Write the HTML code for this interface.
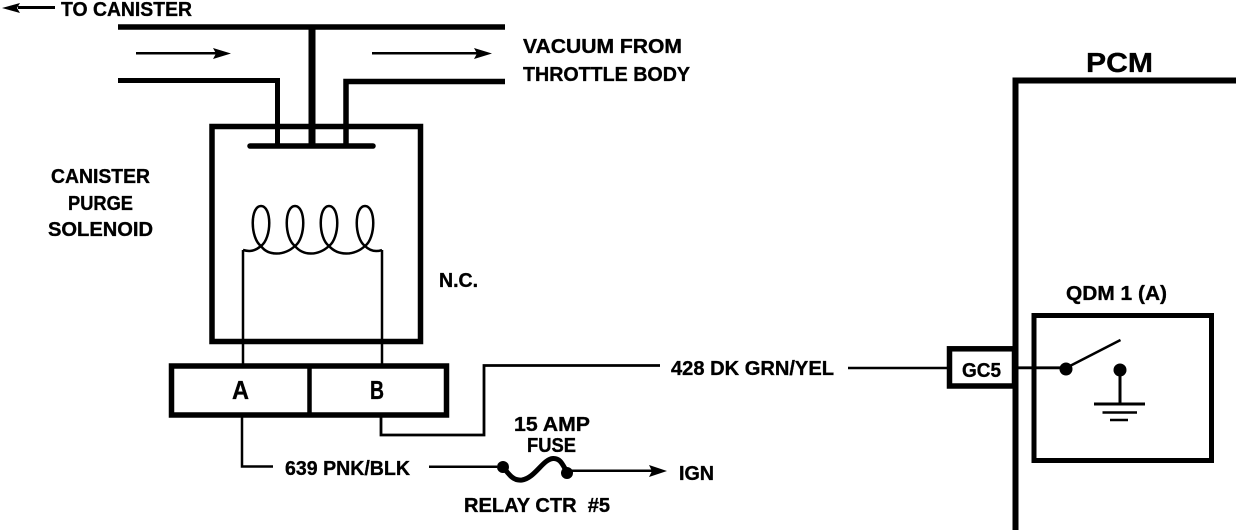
<!DOCTYPE html>
<html><head><meta charset="utf-8"><style>
html,body{margin:0;padding:0;background:#fff;width:1248px;height:530px;overflow:hidden}
svg{display:block}
text{font-family:"Liberation Sans",sans-serif;font-weight:bold;font-size:20px;fill:#000;stroke:#000;stroke-width:.35px;white-space:pre}
</style></head><body>
<svg width="1248" height="530" viewBox="0 0 1248 530" xmlns="http://www.w3.org/2000/svg">
<g fill="none" stroke="#000" stroke-linecap="butt">
<!-- top pipes -->
<path d="M118 27H505" stroke-width="5.500"/>
<path d="M118 80.500H277.500V145" stroke-width="5"/>
<path d="M346 145V81.500H505" stroke-width="5.500"/>
<path d="M312 28V145" stroke-width="7"/>
<!-- solenoid box -->
<rect x="212" y="126.500" width="208.500" height="215" stroke-width="5.500"/>
<path d="M250 146H373" stroke-width="5.500" stroke-linecap="round"/>
<!-- flow arrows -->
<path d="M136 53.300H222M372 53.300H484" stroke-width="2.500"/>
<path d="M18 7.500H55" stroke-width="3"/>
<!-- coil -->
<path d="M243 250C250 252 255 251 261 246C250 238 250 206 261 206C272 206 272 238 261 246C268 256 284 256 295 246C284 238 284 206 295 206C306 206 306 238 295 246C303 256 318 256 329 246C318 238 318 206 329 206C340 206 340 238 329 246C338 256 354 256 365 246C354 238 354 206 365 206C376 206 376 238 365 246C370 251 376 252 382 250" stroke-width="2.500"/>
<path d="M243 250V365" stroke-width="2.500"/>
<path d="M382 250V365" stroke-width="2.500"/>
<!-- connector -->
<rect x="171.500" y="366" width="275" height="49" stroke-width="5.500"/>
<path d="M309.500 366V415" stroke-width="4.500"/>
<!-- wires -->
<path d="M242 416V466.500H273" stroke-width="2.500"/>
<path d="M429 466.700H497" stroke-width="2.500"/>
<path d="M381 416V435H484V365.500H660" stroke-width="2.800"/>
<path d="M848 368H950" stroke-width="2.500"/>
<!-- fuse -->
<path d="M503 467C510 476 514 481 522 480C535 478 543 459 553 458.500C561 458 563 466 567 472" stroke-width="5"/>
<path d="M568 470.700H660" stroke-width="2.500"/>
<!-- PCM -->
<path d="M1236 80.500H1015.500V530" stroke-width="6"/>
<rect x="949.500" y="348.800" width="65" height="37.200" stroke-width="5.500"/>
<rect x="1034" y="315.500" width="177.500" height="145" stroke-width="5"/>
<path d="M1016 367.800H1066" stroke-width="2.800"/>
<path d="M1066 368L1120.500 340" stroke-width="2.500"/>
<path d="M1120 369V404" stroke-width="3"/>
<path d="M1094 404H1145" stroke-width="3"/>
<path d="M1102.500 412.500H1137" stroke-width="2.500"/>
<path d="M1110 420H1128" stroke-width="2.500"/>
</g>
<g fill="#000">
<circle cx="1066" cy="369" r="6.500"/>
<circle cx="1120" cy="370" r="6.500"/>
<circle cx="503" cy="467" r="6"/>
<circle cx="567" cy="473" r="6"/>
<path d="M2 8L20 3L17 8L20 13Z"/>
<path d="M231 53.500L213 48L216 53.500L213 59Z"/>
<path d="M492 53.500L474 48L477 53.500L474 59Z"/>
<path d="M667 471L649 465L652 471L649 477Z"/>
</g>
<text x="61" y="16" textLength="131" lengthAdjust="spacingAndGlyphs">TO CANISTER</text>
<text x="523" y="53" textLength="159" lengthAdjust="spacingAndGlyphs">VACUUM FROM</text>
<text x="523" y="81" textLength="167" lengthAdjust="spacingAndGlyphs">THROTTLE BODY</text>
<text x="1086" y="72" textLength="67" lengthAdjust="spacingAndGlyphs" style="font-size:28px">PCM</text>
<text x="51" y="183" textLength="99" lengthAdjust="spacingAndGlyphs">CANISTER</text>
<text x="68" y="210" textLength="65" lengthAdjust="spacingAndGlyphs">PURGE</text>
<text x="48" y="236" textLength="105" lengthAdjust="spacingAndGlyphs">SOLENOID</text>
<text x="439" y="287" textLength="39" lengthAdjust="spacingAndGlyphs">N.C.</text>
<text x="232" y="399" textLength="17" lengthAdjust="spacingAndGlyphs" style="font-size:26px">A</text>
<text x="370" y="399" textLength="14" lengthAdjust="spacingAndGlyphs" style="font-size:26px">B</text>
<text x="285" y="475" textLength="125" lengthAdjust="spacingAndGlyphs">639 PNK/BLK</text>
<text x="671" y="375" textLength="163" lengthAdjust="spacingAndGlyphs">428 DK GRN/YEL</text>
<text x="962" y="377" textLength="39" lengthAdjust="spacingAndGlyphs">GC5</text>
<text x="1066" y="300" textLength="101" lengthAdjust="spacingAndGlyphs">QDM 1 (A)</text>
<text x="514" y="431" textLength="76" lengthAdjust="spacingAndGlyphs">15 AMP</text>
<text x="527" y="452" textLength="49" lengthAdjust="spacingAndGlyphs">FUSE</text>
<text x="464" y="512" textLength="146" lengthAdjust="spacingAndGlyphs">RELAY CTR  #5</text>
<text x="679" y="480" textLength="35" lengthAdjust="spacingAndGlyphs">IGN</text>
</svg>
</body></html>
